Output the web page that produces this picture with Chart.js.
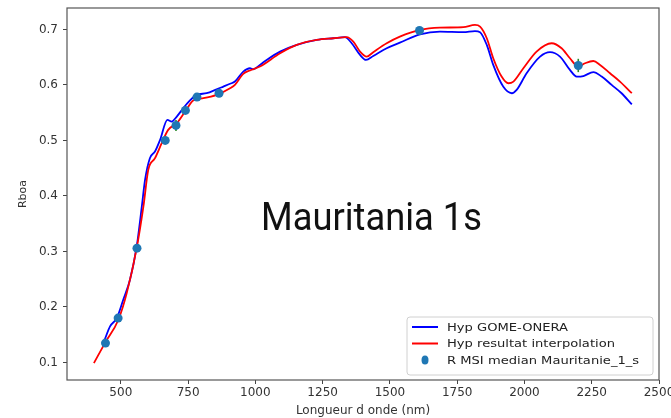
<!DOCTYPE html>
<html>
<head>
<meta charset="utf-8">
<script src="https://cdn.jsdelivr.net/npm/chart.js@4.4.1/dist/chart.umd.min.js"></script>
<style>
  html, body { margin: 0; padding: 0; background: #fff; }
  #wrap { width: 671px; height: 418px; }
</style>
</head>
<body>
<div id="wrap"><canvas id="spectre"></canvas></div>
<script>
// Hyp GOME-ONERA
const blueNm = [440, 460, 485, 509, 534, 559, 578, 590, 608, 627, 646, 673, 689, 708, 732, 757, 782, 819, 856, 881,
    906, 924, 955, 980, 992, 1017, 1042, 1092, 1154, 1228, 1290, 1333, 1358, 1389, 1411, 1438, 1488, 1537, 1612, 1686,
    1773, 1816, 1835, 1860, 1884, 1921, 1953, 1971, 2008, 2058, 2095, 2132, 2169, 2194, 2219, 2256, 2287, 2324, 2361, 2399];
const blueR = [0.141, 0.165, 0.180, 0.213, 0.249, 0.309, 0.381, 0.429, 0.468, 0.480, 0.501, 0.537, 0.534, 0.543, 0.558, 0.572, 0.582, 0.585, 0.592, 0.597,
    0.602, 0.606, 0.624, 0.630, 0.628, 0.636, 0.645, 0.660, 0.672, 0.681, 0.684, 0.686, 0.675, 0.654, 0.645, 0.652, 0.666, 0.676, 0.691, 0.696,
    0.695, 0.697, 0.695, 0.672, 0.636, 0.597, 0.585, 0.591, 0.621, 0.651, 0.659, 0.651, 0.627, 0.615, 0.616, 0.623, 0.615, 0.600, 0.585, 0.565];

// Hyp resultat interpolation
const redNm = [400, 441, 491, 522, 559, 584, 602, 627, 652, 676, 708, 739, 769, 807, 856, 906, 924, 955, 980, 1017,
    1092, 1154, 1228, 1290, 1339, 1364, 1389, 1414, 1438, 1488, 1537, 1612, 1686, 1773, 1816, 1835, 1860, 1884, 1915, 1940,
    1959, 1996, 2045, 2101, 2138, 2169, 2200, 2225, 2256, 2281, 2318, 2355, 2399];
const redR = [0.099, 0.135, 0.177, 0.225, 0.306, 0.381, 0.447, 0.468, 0.495, 0.519, 0.531, 0.552, 0.572, 0.576, 0.582, 0.594, 0.600, 0.620, 0.626, 0.633,
    0.657, 0.672, 0.681, 0.684, 0.686, 0.678, 0.660, 0.651, 0.659, 0.675, 0.687, 0.699, 0.703, 0.704, 0.708, 0.705, 0.684, 0.648, 0.615, 0.603,
    0.606, 0.630, 0.660, 0.675, 0.666, 0.648, 0.633, 0.639, 0.643, 0.636, 0.621, 0.606, 0.585];

// R MSI median (bandes Sentinel-2)
const msiNm = [443, 490, 560, 665, 705, 740, 783, 865, 1610, 2200];
const msiR = [0.135, 0.180, 0.306, 0.500, 0.527, 0.554, 0.578, 0.585, 0.698, 0.635];
const msiErr = [0.006, 0.006, 0.004, 0.004, 0.010, 0.004, 0.004, 0.004, 0.004, 0.012];

const xTicks = [500, 750, 1000, 1250, 1500, 1750, 2000, 2250, 2500];
const yTicks = [0.1, 0.2, 0.3, 0.4, 0.5, 0.6, 0.7];

const legendLabels = ['Hyp GOME-ONERA', 'Hyp resultat interpolation', 'R MSI median Mauritanie_1_s'];
const overlayTitle = 'Mauritania 1s';

const toPts = (xs, ys) => xs.map((x, i) => ({ x: x, y: ys[i] }));

const tickFont = { family: 'DejaVu Sans', size: 12 };

// error bars drawn just before the markers
const errorBars = {
    id: 'errorBars',
    beforeDatasetDraw(chart, args) {
        if (args.index !== 0) return;
        const ctx = chart.ctx;
        const xs = chart.scales.x, ys = chart.scales.y;
        ctx.save();
        ctx.strokeStyle = '#2a8a2a';
        ctx.lineWidth = 1.6;
        msiNm.forEach((nm, i) => {
            const px = xs.getPixelForValue(nm);
            ctx.beginPath();
            ctx.moveTo(px, ys.getPixelForValue(msiR[i] - msiErr[i]));
            ctx.lineTo(px, ys.getPixelForValue(msiR[i] + msiErr[i]));
            ctx.stroke();
        });
        ctx.restore();
    }
};

// frame, legend and big overlay text
const decor = {
    id: 'decor',
    afterDraw(chart) {
        const ctx = chart.ctx;
        const a = chart.chartArea;
        ctx.save();
        ctx.strokeStyle = '#555';
        ctx.lineWidth = 1.2;
        ctx.strokeRect(a.left, a.top, a.right - a.left, a.bottom - a.top);

        // legend box
        const lx = 407, ly = 317, lw = 246, lh = 58;
        ctx.fillStyle = 'rgba(255,255,255,0.85)';
        ctx.strokeStyle = '#d0d0d0';
        ctx.lineWidth = 1;
        ctx.beginPath();
        ctx.roundRect(lx, ly, lw, lh, 3);
        ctx.fill();
        ctx.stroke();

        const rows = [327, 343.5, 360];
        ctx.lineWidth = 2;
        ctx.strokeStyle = '#0000ff';
        ctx.beginPath(); ctx.moveTo(412, rows[0]); ctx.lineTo(438, rows[0]); ctx.stroke();
        ctx.strokeStyle = '#ff0000';
        ctx.beginPath(); ctx.moveTo(412, rows[1]); ctx.lineTo(438, rows[1]); ctx.stroke();
        ctx.fillStyle = '#1f77b4';
        ctx.beginPath(); ctx.ellipse(425, rows[2], 3.5, 4.5, 0, 0, Math.PI * 2); ctx.fill();

        // the picture is a bit stretched sideways, so the text is too
        ctx.font = '11px "DejaVu Sans"';
        ctx.textBaseline = 'middle';
        ctx.fillStyle = '#222';
        legendLabels.forEach((t, i) => {
            ctx.save();
            ctx.translate(447, rows[i] + 1);
            ctx.scale(1.19, 1);
            ctx.fillText(t, 0, 0);
            ctx.restore();
        });

        // overlay title
        ctx.font = '39px Roboto';
        ctx.fillStyle = '#111';
        ctx.textBaseline = 'alphabetic';
        ctx.textAlign = 'left';
        ctx.fillText(overlayTitle, 261, 230, 221);
        ctx.restore();
    }
};

const ctx = document.getElementById('spectre').getContext('2d');

const chart = new Chart(ctx, {
    type: 'scatter',
    data: {
        datasets: [
            {
                label: legendLabels[2],
                data: toPts(msiNm, msiR),
                showLine: false,
                pointRadius: 4.5,
                pointBackgroundColor: '#1f77b4',
                pointBorderWidth: 0
            },
            {
                label: legendLabels[1],
                data: toPts(redNm, redR),
                showLine: true,
                borderColor: '#ff0000',
                borderWidth: 1.8,
                pointRadius: 0,
                cubicInterpolationMode: 'monotone'
            },
            {
                label: legendLabels[0],
                data: toPts(blueNm, blueR),
                showLine: true,
                borderColor: '#0000ff',
                borderWidth: 1.8,
                pointRadius: 0,
                cubicInterpolationMode: 'monotone'
            }
        ]
    },
    options: {
        responsive: true,
        maintainAspectRatio: false,
        animation: false,
        layout: { padding: { top: 8, right: 12, left: 0, bottom: 0 } },
        scales: {
            x: {
                type: 'linear',
                min: 300,
                max: 2500,
                afterBuildTicks: s => { s.ticks = xTicks.map(v => ({ value: v })); },
                afterFit: s => { s.height = 38; s.paddingLeft = 0; s.paddingRight = 0; },
                ticks: { font: tickFont, color: '#333', padding: 2, maxRotation: 0, autoSkip: false, callback: v => String(v) },
                grid: { drawOnChartArea: false, tickLength: 4, color: '#444' },
                border: { display: false },
                title: { display: true, text: 'Longueur d onde (nm)', font: tickFont, color: '#333', padding: { top: 0, bottom: 0 } }
            },
            y: {
                min: 0.0685,
                max: 0.7385,
                afterBuildTicks: s => { s.ticks = yTicks.map(v => ({ value: v })); },
                afterFit: s => { s.width = 67; s.paddingTop = 0; s.paddingBottom = 0; },
                ticks: { font: tickFont, color: '#333', padding: 5, callback: v => v.toFixed(1) },
                grid: { drawOnChartArea: false, tickLength: 4, color: '#444' },
                border: { display: false },
                title: { display: true, text: 'Rboa', font: { family: 'DejaVu Sans', size: 11 }, color: '#333', padding: { top: 17, bottom: 0 } }
            }
        },
        plugins: {
            legend: { display: false },
            tooltip: { enabled: false }
        }
    },
    plugins: [errorBars, decor]
});
</script>
</body>
</html>
